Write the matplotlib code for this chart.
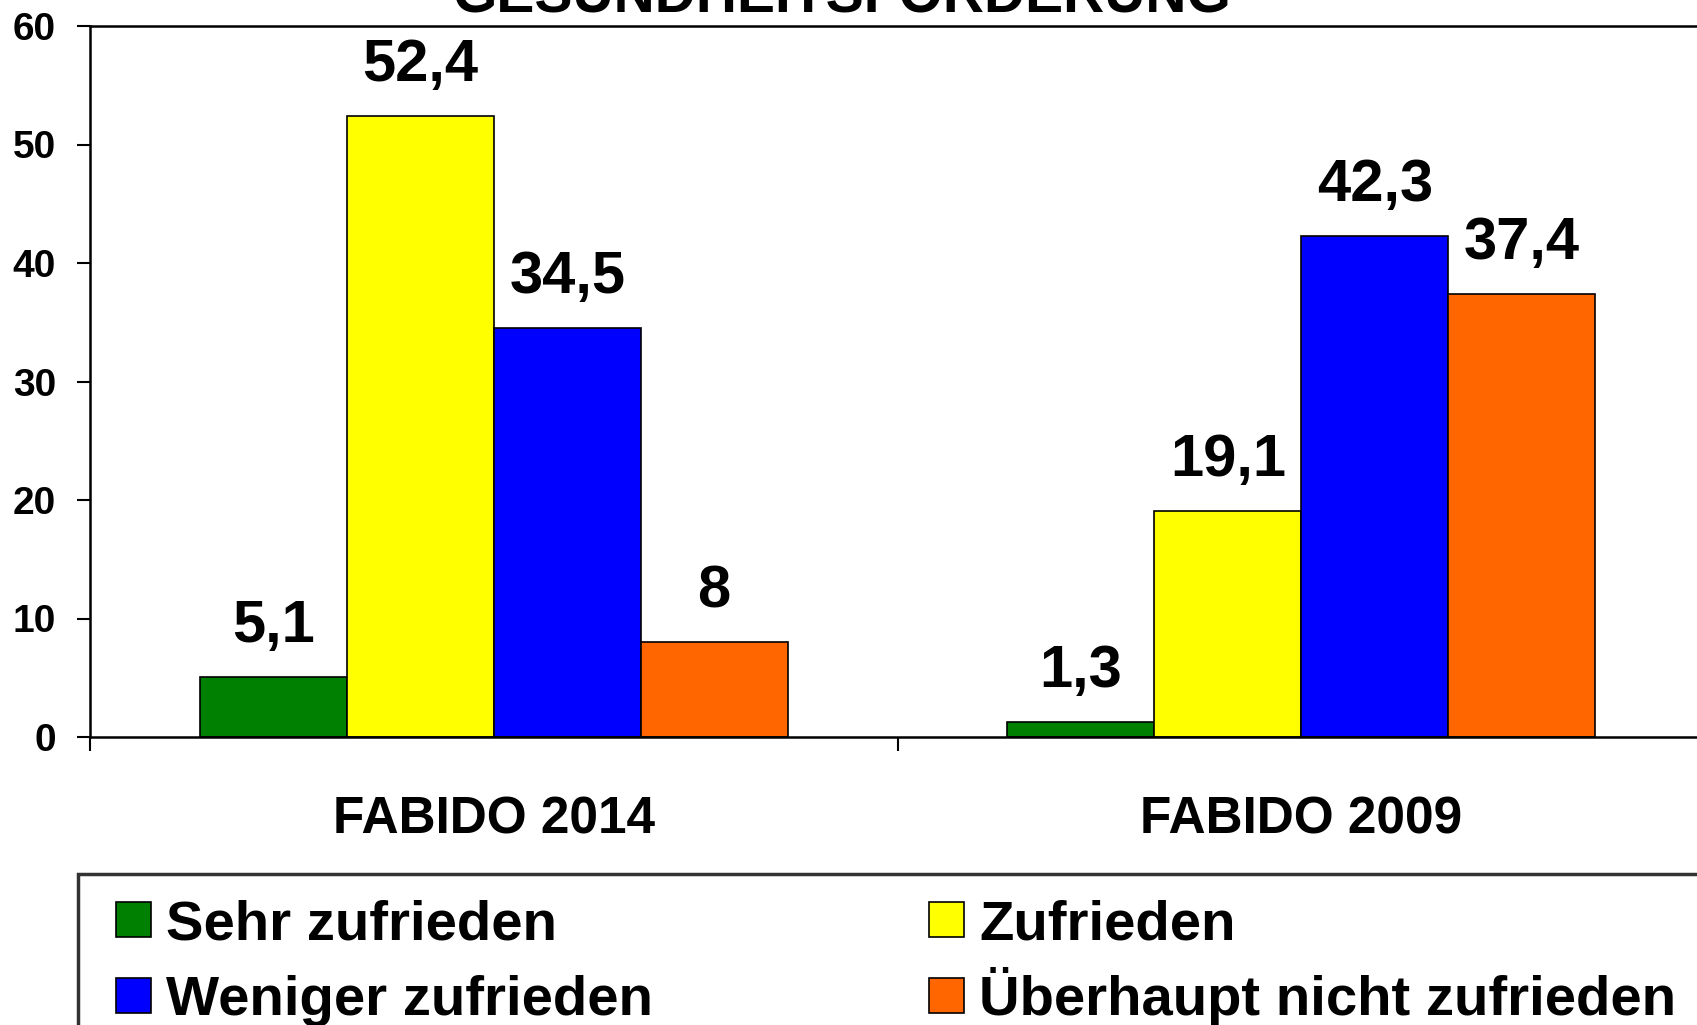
import matplotlib.pyplot as plt
from matplotlib.patches import Rectangle

plt.rcParams['font.family'] = ['Liberation Sans', 'DejaVu Sans']
plt.rcParams['font.weight'] = 'bold'

title = 'GESUNDHEITSFÖRDERUNG'
groups = ['FABIDO 2014', 'FABIDO 2009']
series = ['Sehr zufrieden', 'Zufrieden', 'Weniger zufrieden', 'Überhaupt nicht zufrieden']
values = [
    [5.1, 1.3],
    [52.4, 19.1],
    [34.5, 42.3],
    [8.0, 37.4],
]
labels = [
    ['5,1', '1,3'],
    ['52,4', '19,1'],
    ['34,5', '42,3'],
    ['8', '37,4'],
]
colors = ['#008000', '#FFFF00', '#0000FF', '#FF6600']

W, H = 1697, 1025
fig = plt.figure(figsize=(W / 100, H / 100), dpi=100)
ax = fig.add_axes([90 / W, 1 - 737 / H, (1705 - 90) / W, (737 - 26) / H])

bw = 0.182
x = [0, 1]
for i in range(4):
    pos = [xx + (i - 1.5) * bw for xx in x]
    bars = ax.bar(pos, values[i], width=bw, color=colors[i], edgecolor='black',
                  linewidth=1.2, label=series[i])
    for b, lab in zip(bars, labels[i]):
        ax.annotate(lab, (b.get_x() + b.get_width() / 2, b.get_height()),
                    xytext=(0, 25), textcoords='offset points',
                    ha='center', va='baseline', fontsize=43, fontweight='bold')

ax.set_xlim(-0.5, 1.5)
ax.set_ylim(0, 60)
ax.set_yticks(range(0, 61, 10))
ax.tick_params(axis='y', labelsize=28, length=9.4, width=1.5, pad=15)
ax.set_xticks([-0.5, 0.5, 1.5])
ax.set_xticklabels([])
ax.tick_params(axis='x', which='major', length=10, width=1.5)
ax.set_xticks(x, minor=True)
ax.set_xticklabels(groups, minor=True)
ax.tick_params(axis='x', which='minor', length=0, labelsize=37, pad=42)
for lab in ax.get_yticklabels() + ax.get_xticklabels(minor=True):
    lab.set_fontweight('bold')

for s in ['left', 'bottom', 'top']:
    ax.spines[s].set_linewidth(1.8)
ax.spines['right'].set_visible(False)

fig.text(842 / W, 1 - 11 / H, title, ha='center', va='baseline',
         fontsize=41, fontweight='bold')

# legend frame, running off the page like the original
fig.patches.append(Rectangle((78 / W, -0.1), 1.0, 1 - 874 / H + 0.1,
                             transform=fig.transFigure, fill=False,
                             edgecolor='#333333', linewidth=2.5))

# legend entries drawn by hand so the rows sit where the original has them
col_x = [116, 929]
row_c = [919, 995]
sq = 35
for k in range(4):
    x0 = col_x[k % 2]
    yc = row_c[k // 2]
    fig.patches.append(Rectangle((x0 / W, 1 - (yc + sq / 2) / H), sq / W, sq / H,
                                 transform=fig.transFigure, facecolor=colors[k],
                                 edgecolor='black', linewidth=1.2))
    fig.text((x0 + sq + 15) / W, 1 - (yc + 20) / H, series[k], ha='left',
             va='baseline', fontsize=40.5, fontweight='bold')

fig.savefig('out.png', dpi=100)
